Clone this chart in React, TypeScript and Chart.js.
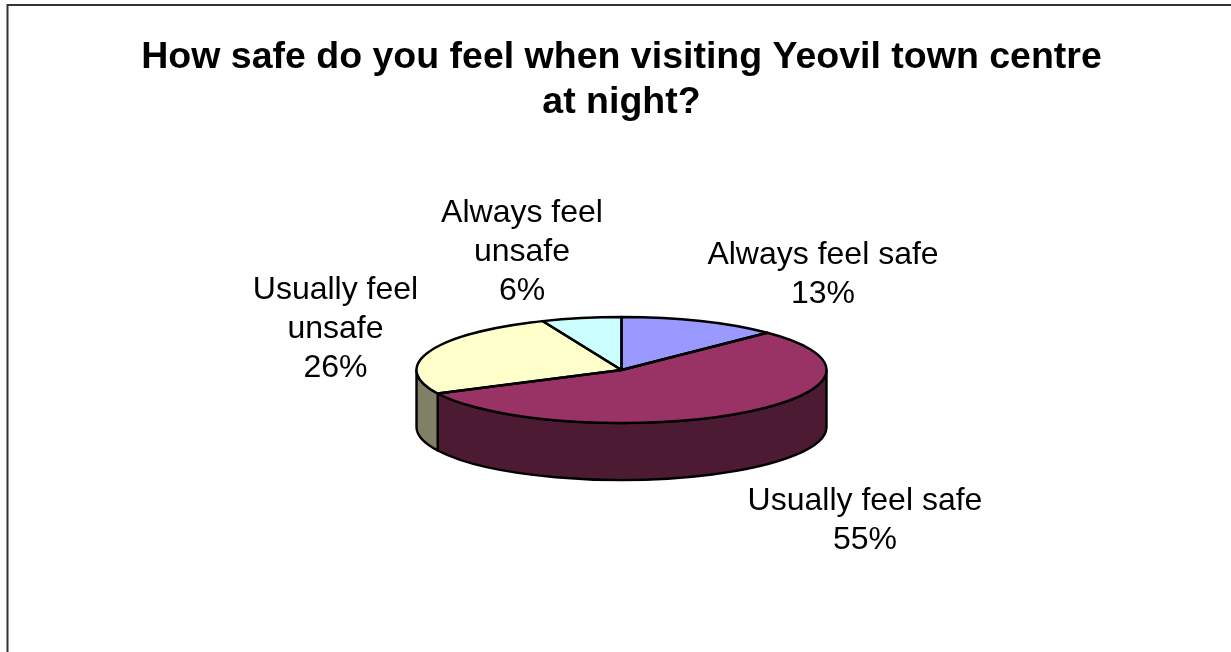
import React, { useEffect, useRef } from "react";
import { Chart, registerables } from "chart.js";

Chart.register(...registerables);

const categories = ["Always feel safe", "Usually feel safe", "Usually feel unsafe", "Always feel unsafe"];
const values = [12.6, 55.1, 26, 6.3];
const topColors = ["#9999FF", "#993366", "#FFFFCC", "#CCFFFF"];
const sideColors = ["#4D4D80", "#4D1A33", "#808066", "#668080"];
const titleLines = ["How safe do you feel when visiting Yeovil town centre", "at night?"];
const labelLines = [
  ["Always feel safe", "13%"],
  ["Usually feel safe", "55%"],
  ["Usually feel", "unsafe", "26%"],
  ["Always feel", "unsafe", "6%"],
];
const labelCentres = [
  [823, 275],
  [865, 521],
  [335.5, 329],
  [522, 252],
];

const SQUASH = 53 / 205;
const DEPTH = 57;
const RADIUS = 205;
const OUTLINE = "#000000";
const LABEL_FONT = "32px 'Liberation Sans', Arial, sans-serif";
const LABEL_LEADING = 39;
const STROKE = 2.4;

const pie3d = {
  id: "pie3d",
  beforeDatasetsDraw(chart: any) {
    const ctx = chart.ctx;
    const arcs = chart.getDatasetMeta(0).data;
    const { x: cx, y: cy, outerRadius: r } = arcs[0];
    const ry = r * SQUASH;
    ctx.save();
    arcs.forEach((arc: any, i: number) => {
      const a = Math.max(arc.startAngle, 0);
      const b = Math.min(arc.endAngle, Math.PI);
      if (b <= a) return;
      ctx.beginPath();
      ctx.ellipse(cx, cy, r, ry, 0, a, b);
      ctx.lineTo(cx + r * Math.cos(b), cy + ry * Math.sin(b) + DEPTH);
      ctx.ellipse(cx, cy + DEPTH, r, ry, 0, b, a, true);
      ctx.closePath();
      ctx.fillStyle = sideColors[i];
      ctx.fill();
      ctx.lineWidth = STROKE;
      ctx.lineJoin = "round";
      ctx.strokeStyle = OUTLINE;
      ctx.stroke();
    });
    ctx.restore();
    ctx.save();
    ctx.translate(cx, cy);
    ctx.scale(1, SQUASH);
    ctx.translate(-cx, -cy);
  },
  afterDatasetsDraw(chart: any) {
    const ctx = chart.ctx;
    ctx.restore();
    const arcs = chart.getDatasetMeta(0).data;
    const { x: cx, y: cy, outerRadius: r } = arcs[0];
    const ry = r * SQUASH;
    ctx.save();
    ctx.lineWidth = STROKE;
    ctx.lineJoin = "round";
    ctx.strokeStyle = OUTLINE;
    arcs.forEach((arc: any) => {
      ctx.beginPath();
      ctx.moveTo(cx, cy);
      ctx.ellipse(cx, cy, r, ry, 0, arc.startAngle, arc.endAngle);
      ctx.closePath();
      ctx.stroke();
    });
    ctx.restore();
  },
  afterDraw(chart: any) {
    const ctx = chart.ctx;
    ctx.save();
    ctx.fillStyle = "#000000";
    ctx.font = LABEL_FONT;
    ctx.textAlign = "center";
    ctx.textBaseline = "middle";
    labelLines.forEach((lines, i) => {
      const [x, y] = labelCentres[i];
      lines.forEach((line, j) => {
        ctx.fillText(line, x, y + (j - (lines.length - 1) / 2) * LABEL_LEADING);
      });
    });
    ctx.strokeStyle = "#333333";
    ctx.lineWidth = 2;
    ctx.beginPath();
    ctx.moveTo(1231, 5);
    ctx.lineTo(7.5, 5);
    ctx.lineTo(7.5, 652);
    ctx.stroke();
    ctx.restore();
  },
};

export default function App() {
  const ref = useRef<HTMLCanvasElement>(null);
  useEffect(() => {
    const chart = new Chart(ref.current!, {
      type: "pie",
      data: {
        labels: categories,
        datasets: [
          {
            data: values,
            backgroundColor: topColors,
            borderWidth: 0,
          },
        ],
      },
      options: {
        responsive: false,
        animation: false,
        events: [],
        radius: RADIUS,
        layout: { padding: { left: 12, top: 0, right: 0, bottom: 37 } },
        plugins: {
          legend: { display: false },
          tooltip: { enabled: false },
          title: {
            display: true,
            text: titleLines,
            color: "#000000",
            font: { family: "'Liberation Sans', Arial, sans-serif", size: 37.5, weight: "bold", lineHeight: 1.2 },
            padding: { top: 35, bottom: 0 },
          },
        },
      } as any,
      plugins: [pie3d],
    });
    return () => chart.destroy();
  }, []);
  return (
    <canvas
      ref={ref}
      width={1231}
      height={652}
      style={{ position: "fixed", left: 0, top: 0, display: "block", background: "#ffffff" }}
    />
  );
}
